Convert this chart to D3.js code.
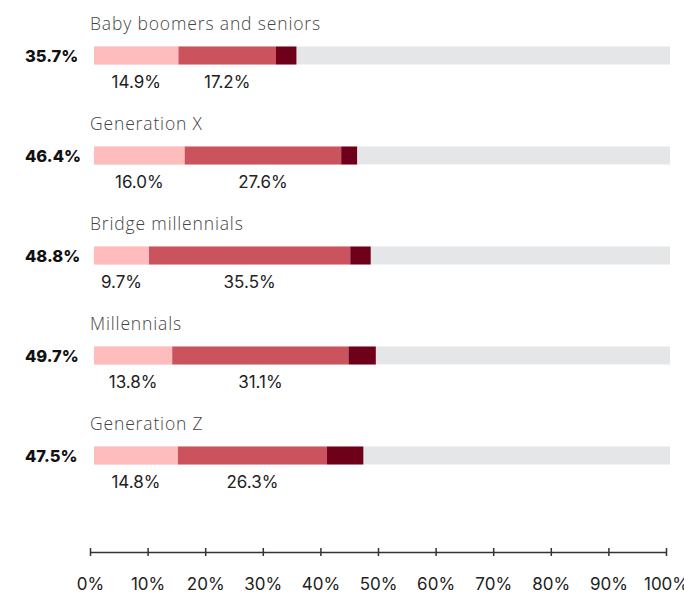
<!DOCTYPE html>
<html>
<head>
<meta charset="utf-8">
<script src="https://cdn.jsdelivr.net/npm/d3@7"></script>
<style>
  html, body { margin: 0; padding: 0; background: #fff; }
  svg { display: block; }
  .title { font-family: "Open Sans", Inter, sans-serif; font-weight: 300; font-size: 17.5px; fill: #444; letter-spacing: 0.85px; }
  .total { font-family: Inter, "Open Sans", sans-serif; font-weight: 800; font-size: 16.5px; fill: #111; }
  .seg-label { font-family: Inter, "Open Sans", sans-serif; font-weight: 400; font-size: 17px; fill: #222; }
  .axis text { font-family: Inter, "Open Sans", sans-serif; font-size: 17px; fill: #222; }
  .axis path, .axis line { stroke: #333; stroke-width: 1.5; }
</style>
</head>
<body>
<svg id="chart" width="684" height="595"></svg>
<script>
// Share of each generation, split into three levels (last level is the remainder of the total)
const categories = ["Baby boomers and seniors", "Generation X", "Bridge millennials", "Millennials", "Generation Z"];
const totals     = [35.7, 46.4, 48.8, 49.7, 47.5];
const level1     = [14.9, 16.0, 9.7, 13.8, 14.8];
const level2     = [17.2, 27.6, 35.5, 31.1, 26.3];
const axisTicks  = [0, 10, 20, 30, 40, 50, 60, 70, 80, 90, 100];

const colors = ["#ffbcbd", "#cb535e", "#6e0019"];
const trackColor = "#e5e6e8";

const rowStep = 100;
const barH = 18;
const trackRight = 670;

const svg = d3.select("#chart");

// bar scale and axis scale
const xBar = d3.scaleLinear().domain([0, 100]).range([94, 661]);
const xAxis = d3.scaleLinear().domain([0, 100]).range([90, 666]);

const rows = categories.map((c, i) => {
  const a = level1[i], b = level2[i], t = totals[i];
  return {
    name: c, total: t,
    segs: [
      { v0: 0, v1: a, value: a, label: true },
      { v0: a, v1: a + b, value: b, label: true },
      { v0: a + b, v1: t, value: t - a - b, label: false }
    ]
  };
});

const g = svg.selectAll("g.row").data(rows).join("g")
  .attr("class", "row")
  .attr("transform", (d, i) => `translate(0,${i * rowStep})`);

g.append("text").attr("class", "title")
  .attr("x", 90).attr("y", 30)
  .text(d => d.name);

g.append("text").attr("class", "total")
  .attr("x", 25).attr("y", 61.5)
  .text(d => d.total.toFixed(1) + "%");

const barY = 46.5;

g.append("rect")
  .attr("x", xBar(0)).attr("y", barY)
  .attr("width", trackRight - xBar(0)).attr("height", barH)
  .attr("fill", trackColor);

g.selectAll("rect.seg").data(d => d.segs).join("rect")
  .attr("class", "seg")
  .attr("x", s => xBar(s.v0)).attr("y", barY)
  .attr("width", s => xBar(s.v1) - xBar(s.v0)).attr("height", barH)
  .attr("fill", (s, j) => colors[j]);

g.selectAll("text.seg-label").data(d => d.segs.filter(s => s.label)).join("text")
  .attr("class", "seg-label")
  .attr("x", s => (xBar(s.v0) + xBar(s.v1)) / 2)
  .attr("y", 87.5)
  .attr("text-anchor", "middle")
  .text(s => s.value.toFixed(1) + "%");

// bottom axis
const axis = d3.axisBottom(xAxis)
  .tickValues(axisTicks)
  .tickSize(0)
  .tickSizeOuter(0)
  .tickPadding(0)
  .tickFormat(d => d + "%");

const axG = svg.append("g").attr("class", "axis").attr("transform", "translate(0,552)").call(axis);
axG.selectAll(".tick line").attr("y1", -4).attr("y2", 4);
axG.selectAll(".tick text").attr("y", 38).attr("dy", 0);
</script>
</body>
</html>
